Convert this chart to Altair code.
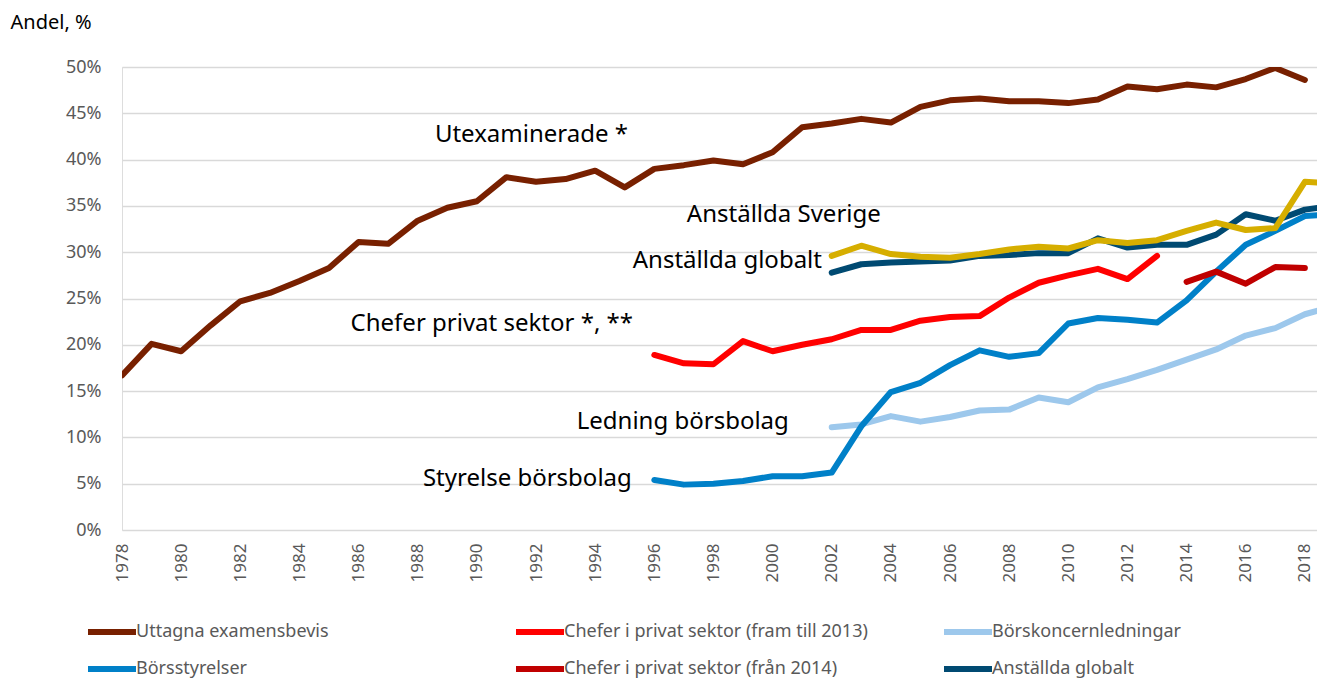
import altair as alt
import pandas as pd

years = list(range(1978, 2020))

uttagna = [16.7, 20.1, 19.3, 22.1, 24.7, 25.6, 26.9, 28.3, 31.1, 30.9,
           33.4, 34.8, 35.5, 38.1, 37.6, 37.9, 38.8, 37.0, 39.0, 39.4,
           39.9, 39.5, 40.8, 43.5, 43.9, 44.4, 44.0, 45.7, 46.4, 46.6,
           46.3, 46.3, 46.1, 46.5, 47.9, 47.6, 48.1, 47.8, 48.7, 49.9,
           48.6, None]
chefer_till_2013 = [None] * 18 + [18.9, 18.0, 17.9, 20.4, 19.3, 20.0, 20.6, 21.6,
                                   21.6, 22.6, 23.0, 23.1, 25.1, 26.7, 27.5, 28.2,
                                   27.1, 29.6, None, None, None, None, None, None]
chefer_fran_2014 = [None] * 36 + [26.8, 27.9, 26.6, 28.4, 28.3, None]
borsstyrelser = [None] * 18 + [5.4, 4.9, 5.0, 5.3, 5.8, 5.8, 6.2, 11.2,
                               14.9, 15.9, 17.8, 19.4, 18.7, 19.1, 22.3, 22.9,
                               22.7, 22.4, 24.8, 27.9, 30.8, 32.3, 33.9, 34.1]
borskoncern = [None] * 24 + [11.1, 11.4, 12.3, 11.7, 12.2, 12.9, 13.0, 14.3,
                             13.8, 15.4, 16.3, 17.3, 18.4, 19.5, 21.0, 21.8,
                             23.3, 24.2]
anst_globalt = [None] * 24 + [27.8, 28.7, 28.9, 29.0, 29.1, 29.6, 29.7, 29.9,
                              29.9, 31.5, 30.5, 30.8, 30.8, 31.9, 34.1, 33.4,
                              34.6, 35.0]
anst_sverige = [None] * 24 + [29.6, 30.7, 29.8, 29.5, 29.4, 29.8, 30.3, 30.6,
                              30.4, 31.3, 31.0, 31.3, 32.3, 33.2, 32.4, 32.6,
                              37.6, 37.4]

series_names = [
    "Uttagna examensbevis",
    "Chefer i privat sektor (fram till 2013)",
    "Börskoncernledningar",
    "Börsstyrelser",
    "Chefer i privat sektor (från 2014)",
    "Anställda globalt",
    "Anställda Sverige",
]
series_values = [uttagna, chefer_till_2013, borskoncern, borsstyrelser,
                 chefer_fran_2014, anst_globalt, anst_sverige]
series_colors = ["#782000", "#FF0000", "#9DC8EC", "#0080C8",
                 "#C00000", "#004A72", "#D6AE00"]
# legend entries, listed column by column (2 rows x 3 columns)
legend_names = [
    "Uttagna examensbevis",
    "Börsstyrelser",
    "Chefer i privat sektor (fram till 2013)",
    "Chefer i privat sektor (från 2014)",
    "Börskoncernledningar",
    "Anställda globalt",
]

ann_labels = ["Utexaminerade *", "Anställda Sverige", "Anställda globalt",
              "Chefer privat sektor *, **", "Ledning börsbolag", "Styrelse börsbolag"]
ann_x = [1995.11, 2003.66, 2001.67, 1995.28, 2000.55, 1995.24]
ann_y = [42.7, 34.0, 29.0, 22.2, 11.7, 5.55]

x_ticks = list(range(1978, 2019, 2))
y_ticks = list(range(0, 51, 5))

rows = []
for name, vals in zip(series_names, series_values):
    for yr, v in zip(years, vals):
        if v is not None:
            rows.append({"År": yr, "Andel": v, "Serie": name})
df = pd.DataFrame(rows)
ann = pd.DataFrame({"label": ann_labels, "x": ann_x, "y": ann_y})

FONT = "Noto Sans"

xscale = alt.Scale(domain=[1978, 2018.41], nice=False, zero=False)
yscale = alt.Scale(domain=[0, 50], nice=False)

lines = alt.Chart(df).mark_line(
    strokeWidth=6, strokeCap="round", strokeJoin="round", clip=True
).encode(
    x=alt.X("År:Q", scale=xscale,
            axis=alt.Axis(values=x_ticks, labelAngle=-90, format="d", title=None,
                          ticks=False, domain=False, grid=False,
                          labelFontSize=17, labelColor="#595959", labelPadding=13,
                          labelFont=FONT)),
    y=alt.Y("Andel:Q", scale=yscale,
            axis=alt.Axis(values=y_ticks, labelExpr="datum.value + '%'",
                          title="Andel, %", titleAngle=0, titleAlign="left",
                          titleBaseline="middle", titleX=-112, titleY=-45,
                          titleFontSize=20, titleFontWeight="normal", titleColor="#000000",
                          titleFont=FONT,
                          ticks=False, domain=False, grid=True, gridColor="#D9D9D9",
                          gridWidth=1.5, labelFontSize=18, labelColor="#595959",
                          labelPadding=21, labelFont=FONT)),
    color=alt.Color("Serie:N",
                    scale=alt.Scale(domain=series_names, range=series_colors),
                    legend=alt.Legend(values=legend_names, title=None, orient="none",
                                      legendX=-19, legendY=556, columns=3,
                                      gridAlign="all", columnPadding=64, rowPadding=13,
                                      symbolType="M-4,0H4", symbolSize=144,
                                      symbolStrokeWidth=6, labelOffset=15,
                                      labelFontSize=18, labelColor="#595959",
                                      labelLimit=500,
                                      labelFont=FONT, padding=0)),
    order=alt.Order("År:Q"),
)

labels = alt.Chart(ann).mark_text(
    align="right", baseline="middle", fontSize=24, font=FONT, color="#000000"
).encode(
    x=alt.X("x:Q", scale=xscale),
    y=alt.Y("y:Q", scale=yscale),
    text="label:N",
)

chart = alt.layer(lines, labels).properties(
    width=1195, height=463,
    autosize=alt.AutoSizeParams(type="none"),
    padding={"left": 114, "top": 59, "right": 0, "bottom": 148},
).configure_view(stroke=None).configure(font=FONT)

chart.save("out.html", embed_options={"renderer": "svg", "actions": False})
